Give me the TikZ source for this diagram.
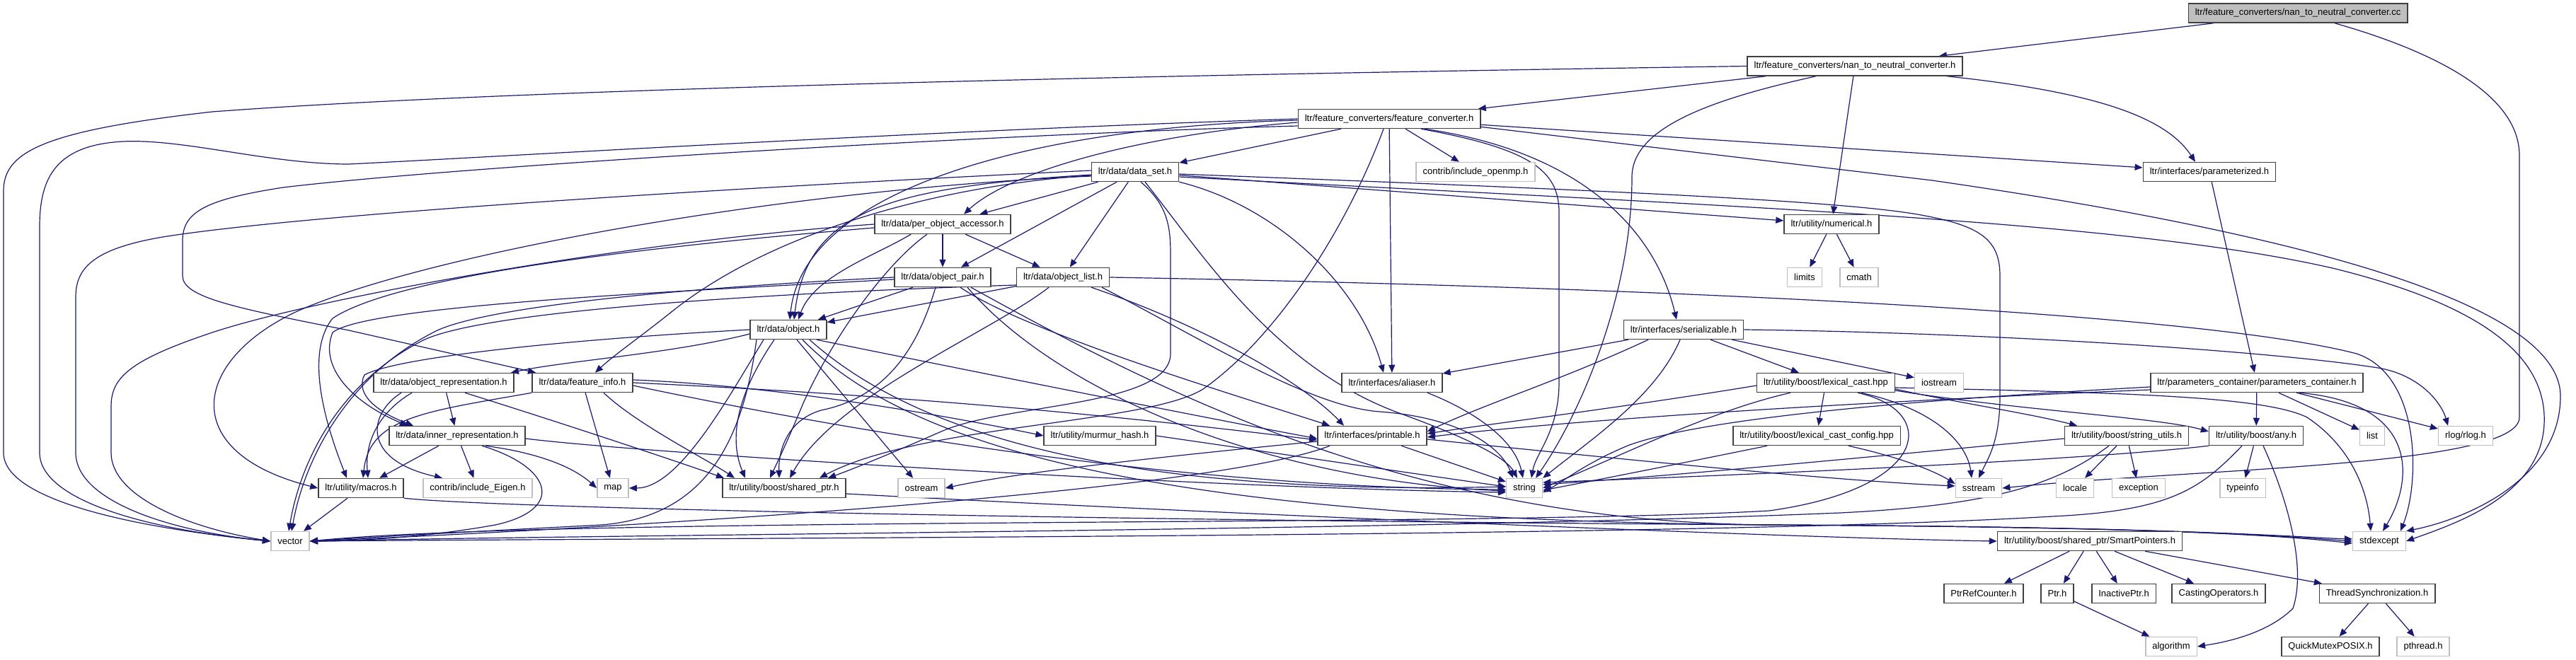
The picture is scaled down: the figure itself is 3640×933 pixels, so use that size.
\documentclass[tikz,border=0pt]{standalone}
\usepackage{fontspec}
\setmainfont{Liberation Sans}
\usetikzlibrary{arrows.meta,backgrounds}
\definecolor{edgeblue}{HTML}{191970}
\definecolor{boxgray}{HTML}{BFBFBF}

\begin{document}
\begin{tikzpicture}[x=1pt,y=-1pt,
  file/.style={draw=black!75,line width=1.5pt,fill=white,minimum height=27pt,
    inner xsep=9.5pt,inner ysep=0pt,font=\fontsize{13pt}{15pt}\selectfont},
  sys/.style={file,draw=boxgray},
  dep/.style={edgeblue,line width=1.2pt,-{Triangle[length=11pt,width=9pt]}}]
  % rank 0 - 2
  \node[file,fill=boxgray] (root) at (3247,18.5) {ltr/feature\_converters/nan\_to\_neutral\_converter.cc};
  \node[file] (nanh) at (2621,93.5) {ltr/feature\_converters/nan\_to\_neutral\_converter.h};
  \node[file] (fconv) at (1963,168) {ltr/feature\_converters/feature\_converter.h};
  % rank 3 - 6
  \node[file] (dataset) at (1604,243) {ltr/data/data\_set.h};
  \node[sys] (openmp) at (2085,243) {contrib/include\_openmp.h};
  \node[file] (param) at (3122,243) {ltr/interfaces/parameterized.h};
  \node[file] (poa) at (1332,317) {ltr/data/per\_object\_accessor.h};
  \node[file] (numerical) at (2588,317) {ltr/utility/numerical.h};
  \node[file] (opair) at (1332,392) {ltr/data/object\_pair.h};
  \node[file] (olist) at (1502,392) {ltr/data/object\_list.h};
  \node[sys] (limits) at (2550,392) {limits};
  \node[sys] (cmath) at (2627,392) {cmath};
  \node[file] (object) at (1114,466) {ltr/data/object.h};
  \node[file] (serial) at (2379,466) {ltr/interfaces/serializable.h};
  % rank 7 - 8
  \node[file] (objrep) at (627,541) {ltr/data/object\_representation.h};
  \node[file] (finfo) at (823,541) {ltr/data/feature\_info.h};
  \node[file] (aliaser) at (1967,541) {ltr/interfaces/aliaser.h};
  \node[file] (lexcast) at (2580,541) {ltr/utility/boost/lexical\_cast.hpp};
  \node[sys] (iostream) at (2740,541) {iostream};
  \node[file] (pcont) at (3189,541) {ltr/parameters\_container/parameters\_container.h};
  \node[file] (innerrep) at (646,616) {ltr/data/inner\_representation.h};
  \node[file] (murmur) at (1554,616) {ltr/utility/murmur\_hash.h};
  \node[file] (printable) at (1939,616) {ltr/interfaces/printable.h};
  \node[file] (lexconf) at (2567,616) {ltr/utility/boost/lexical\_cast\_config.hpp};
  \node[file] (strutils) at (3005,616) {ltr/utility/boost/string\_utils.h};
  \node[file] (any) at (3188,616) {ltr/utility/boost/any.h};
  \node[sys] (list) at (3352,616) {list};
  \node[sys] (rlog) at (3484,616) {rlog/rlog.h};
  % rank 9 - 12
  \node[file] (macros) at (510,690) {ltr/utility/macros.h};
  \node[sys] (eigen) at (675,690) {contrib/include\_Eigen.h};
  \node[sys] (map) at (866,690) {map};
  \node[file] (sptr) at (1108,690) {ltr/utility/boost/shared\_ptr.h};
  \node[sys] (ostream) at (1302,690) {ostream};
  \node[sys] (string) at (2154,690) {string};
  \node[sys] (sstream) at (2796,690) {sstream};
  \node[sys] (locale) at (2932,690) {locale};
  \node[sys] (exception) at (3022,690) {exception};
  \node[sys] (typeinfo) at (3169,690) {typeinfo};
  \node[sys] (vector) at (410,765) {vector};
  \node[file] (smartp) at (2953,765) {ltr/utility/boost/shared\_ptr/SmartPointers.h};
  \node[sys] (stdexcept) at (3362,765) {stdexcept};
  \node[file] (ptrref) at (2803,839) {PtrRefCounter.h};
  \node[file] (ptrh) at (2907,839) {Ptr.h};
  \node[file] (inactive) at (3001,839) {InactivePtr.h};
  \node[file] (casting) at (3135,839) {CastingOperators.h};
  \node[file] (threadsync) at (3359,839) {ThreadSynchronization.h};
  \node[sys] (algorithm) at (3068,914) {algorithm};
  \node[file] (quickmutex) at (3293,914) {QuickMutexPOSIX.h};
  \node[sys] (pthread) at (3424,914) {pthread.h};

  \begin{pgfonlayer}{background}
  \fill[white,use as bounding box] (0,0) rectangle (3640,933);
  % root and nan_to_neutral_converter.h
  \draw[dep] (root) -- (nanh);
  \draw[dep] ([xshift=52pt]root.south) .. controls (3430,70) and (3560,130) .. (3560,220) -- (3560,590) .. controls (3560,660) and (3100,662) .. (sstream.east);
  \draw[dep] (nanh) -- (fconv);
  \draw[dep] (nanh.west) .. controls (1500,108) and (700,128) .. (300,158) .. controls (60,185) and (5,215) .. (5,270) -- (5,640) .. controls (5,705) and (180,745) .. (vector.west);
  \draw[dep] ([xshift=-55pt]nanh.south) .. controls (2420,140) and (2306,180) .. (2306,250) .. controls (2306,420) and (2230,590) .. ([xshift=16pt]string.north);
  \draw[dep] (nanh) -- (numerical);
  \draw[dep] ([xshift=130pt]nanh.south) .. controls (2960,130) and (3060,165) .. ([xshift=-20pt]param.north);
  % feature_converter.h
  \draw[dep] (fconv) -- (dataset);
  \draw[dep] ([yshift=-5pt]fconv.west) .. controls (1620,190) and (1430,240) .. ([xshift=30pt]poa.north);
  \draw[dep] ([yshift=-2pt]fconv.west) .. controls (1450,180) and (1135,270) .. ([xshift=2pt]object.north);
  \draw[dep] ([xshift=-8pt]fconv.south) .. controls (1900,330) and (1800,480) .. (1700,550) .. controls (1620,600) and (1300,600) .. ([xshift=50pt]sptr.north);
  \draw[dep] (fconv) -- (aliaser);
  \draw[dep] (fconv) -- (openmp);
  \draw[dep] ([xshift=45pt]fconv.south) .. controls (2160,210) and (2203,240) .. (2203,300) -- (2203,540) .. controls (2203,610) and (2170,640) .. ([xshift=10pt]string.north);
  \draw[dep] ([xshift=50pt]fconv.south) .. controls (2240,215) and (2340,330) .. ([xshift=-10pt]serial.north);
  \draw[dep] (fconv) -- (param);
  \draw[dep] (fconv.-5) -- (2730,255) .. controls (3250,330) and (3618,430) .. (3618,560) .. controls (3618,680) and (3480,735) .. (stdexcept.north east);
  \draw[dep] (fconv.west) .. controls (1300,185) and (700,222) .. (493,232) .. controls (380,232) and (260,196) .. (174,200) .. controls (80,205) and (56,250) .. (56,320) -- (56,640) .. controls (56,705) and (200,748) .. (vector.west);
  \draw[dep] ([yshift=-10pt]fconv.west) .. controls (1400,190) and (650,235) .. (400,265) .. controls (290,282) and (258,300) .. (258,340) -- (258,390) .. controls (258,420) and (330,435) .. (493,467) -- ([xshift=-66pt]finfo.north);
  % data_set.h
  \draw[dep] (dataset) -- (poa);
  \draw[dep] (dataset) -- (opair);
  \draw[dep] (dataset) -- (olist);
  \draw[dep] ([yshift=-4pt]dataset.west) .. controls (1250,265) and (1140,300) .. ([xshift=8pt]object.north);
  \draw[dep] (dataset.south east) .. controls (1800,290) and (1920,400) .. ([xshift=-12pt]aliaser.north);
  \draw[dep] (dataset) -- (numerical);
  \draw[dep] ([yshift=2pt]dataset.west) .. controls (1100,262) and (450,300) .. (230,335) .. controls (130,352) and (107,380) .. (107,420) -- (107,640) .. controls (107,705) and (230,750) .. (vector.west);
  \draw[dep] ([yshift=-6pt]dataset.west) .. controls (1100,268) and (600,360) .. (420,440) .. controls (270,510) and (250,640) .. (macros.west);
  \draw[dep] ([xshift=8pt]dataset.south) .. controls (1650,290) and (1654,320) .. (1654,360) -- (1654,500) .. controls (1654,575) and (1420,570) .. (1330,610) .. controls (1250,645) and (1200,665) .. ([xshift=62pt]sptr.north);
  \draw[dep] ([xshift=14pt]dataset.south) .. controls (1700,360) and (1800,520) .. (1980,585) .. controls (2090,625) and (2130,650) .. ([xshift=-10pt]string.north);
  \draw[dep] ([yshift=-3pt]dataset.east) .. controls (2300,270) and (2620,285) .. (2720,305) .. controls (2800,320) and (2826,340) .. (2826,390) -- (2826,560) .. controls (2826,625) and (2808,650) .. (sstream.north);
  \draw[dep] ([yshift=-7pt]dataset.east) .. controls (2400,290) and (3000,310) .. (3300,380) .. controls (3500,430) and (3600,500) .. (3595,600) .. controls (3590,700) and (3470,740) .. (stdexcept.east);
  \draw[dep] ([yshift=-5pt]dataset.west) .. controls (1350,260) and (1100,320) .. (950,440) .. controls (900,480) and (870,500) .. ([xshift=18pt]finfo.north);
  % per_object_accessor.h
  \draw[dep] (poa) -- (opair);
  \draw[dep] (poa) -- (olist);
  \draw[dep] ([xshift=-45pt]poa.south) .. controls (1240,360) and (1150,390) .. ([xshift=14pt]object.north);
  \draw[dep] ([xshift=-22pt]poa.south) .. controls (1255,370) and (1180,470) .. (1135,570) .. controls (1110,630) and (1100,650) .. ([xshift=-20pt]sptr.north);
  \draw[dep] (poa.west) .. controls (900,340) and (450,420) .. (300,470) .. controls (180,510) and (157,535) .. (157,575) -- (157,640) .. controls (157,700) and (260,745) .. (vector.west);
  \draw[dep] ([yshift=-5pt]poa.west) .. controls (900,350) and (560,390) .. (470,450) .. controls (430,500) and (460,600) .. ([xshift=-20pt]macros.north);
  % object_pair.h, object_list.h
  \draw[dep] (opair) -- (object);
  \draw[dep] ([xshift=-10pt]opair.south) .. controls (1300,480) and (1260,560) .. (1160,580) .. controls (1110,595) and (1100,640) .. ([xshift=-7pt]sptr.north);
  \draw[dep] ([xshift=25pt]opair.south) .. controls (1450,470) and (1750,560) .. ([xshift=-60pt]printable.north);
  \draw[dep] ([xshift=35pt]opair.south) .. controls (1500,560) and (1800,680) .. ([yshift=-4pt]string.west);
  \draw[dep] ([xshift=40pt]opair.south) .. controls (1650,560) and (2000,738) .. (2500,742) .. controls (3100,745) and (3250,760) .. ([yshift=-3pt]stdexcept.west);
  \draw[dep] (opair.west) .. controls (1000,405) and (700,430) .. (618,467) .. controls (490,530) and (430,650) .. ([xshift=2pt]vector.north);
  \draw[dep] ([yshift=-3pt]opair.west) .. controls (1000,410) and (520,430) .. (470,470) .. controls (450,520) and (500,570) .. ([xshift=-70pt]innerrep.north);
  \draw[dep] (olist) -- (object);
  \draw[dep] ([xshift=-20pt]olist.south) .. controls (1400,470) and (1180,560) .. ([xshift=8pt]sptr.north);
  \draw[dep] ([xshift=40pt]olist.south) .. controls (1700,460) and (1840,540) .. ([xshift=-40pt]printable.north);
  \draw[dep] ([xshift=55pt]olist.south) .. controls (1700,480) and (1850,575) .. (1950,582) .. controls (2060,590) and (2120,630) .. ([xshift=-16pt]string.north);
  \draw[dep] (olist.east) .. controls (2300,405) and (3100,440) .. (3330,500) .. controls (3420,530) and (3420,680) .. ([xshift=30pt]stdexcept.north);
  \draw[dep] ([yshift=-11pt]olist.west) .. controls (1150,412) and (700,435) .. (600,480) .. controls (480,540) and (425,650) .. ([xshift=-2pt]vector.north);
  % object.h
  \draw[dep] ([yshift=-6pt]object.west) .. controls (950,500) and (800,510) .. ([xshift=95pt]objrep.north);
  \draw[dep] (object.west) .. controls (800,480) and (560,505) .. (515,530) .. controls (500,560) and (540,585) .. ([xshift=-62pt]innerrep.north);
  \draw[dep] ([xshift=-20pt]object.south) .. controls (1040,560) and (1030,620) .. ([xshift=-55pt]sptr.north);
  \draw[dep] (object) -- (ostream);
  \draw[dep] ([xshift=40pt]object.south) .. controls (1400,530) and (1700,590) .. ([yshift=-4pt]printable.west);
  \draw[dep] ([xshift=30pt]object.south) .. controls (1300,620) and (1600,700) .. ([yshift=2pt]string.west);
  \draw[dep] ([xshift=20pt]object.south) .. controls (1300,650) and (1700,735) .. (2500,742) .. controls (3100,745) and (3250,760) .. (stdexcept.west);
  \draw[dep] ([xshift=-35pt]object.south) .. controls (1030,560) and (960,690) .. (map.east);
  \draw[dep] ([xshift=-45pt]object.south) .. controls (1050,620) and (1000,730) .. (850,742) .. controls (600,755) and (480,762) .. (vector.east);
  % feature_info.h, object_representation.h, inner_representation.h
  \draw[dep] (finfo) -- (map);
  \draw[dep] (finfo.south west) .. controls (600,582) and (522,590) .. ([xshift=3pt]macros.north);
  \draw[dep] ([xshift=30pt]finfo.south) .. controls (900,600) and (1000,650) .. ([xshift=-70pt]sptr.north);
  \draw[dep] ([yshift=4pt]finfo.east) .. controls (1100,545) and (1350,590) .. (murmur.west);
  \draw[dep] ([yshift=-4pt]finfo.east) .. controls (1250,620) and (1700,690) .. ([yshift=-2pt]string.west);
  \draw[dep] (finfo.east) .. controls (1300,560) and (1600,590) .. ([yshift=-6pt]printable.west);
  \draw[dep] (objrep) -- (innerrep);
  \draw[dep] ([xshift=-45pt]objrep.south) .. controls (540,580) and (515,620) .. ([xshift=10pt]macros.north);
  \draw[dep] ([xshift=-60pt]objrep.south) .. controls (520,585) and (510,650) .. ([xshift=-50pt]eigen.north);
  \draw[dep] ([xshift=30pt]objrep.south) .. controls (800,600) and (950,650) .. ([xshift=-85pt]sptr.north);
  \draw[dep] (innerrep) -- (macros);
  \draw[dep] (innerrep) -- (eigen);
  \draw[dep] ([xshift=40pt]innerrep.south) .. controls (760,640) and (810,660) .. (map.west);
  \draw[dep] ([xshift=35pt]innerrep.south) .. controls (780,660) and (800,720) .. (700,742) .. controls (600,760) and (500,765) .. (vector.east);
  \draw[dep] ([yshift=-4pt]innerrep.east) .. controls (900,640) and (1700,690) .. ([yshift=-6pt]string.west);
  % macros.h, shared_ptr.h, murmur_hash.h
  \draw[dep] (macros) -- (vector);
  \draw[dep] (macros.south east) .. controls (700,718) and (1500,735) .. (2500,742) .. controls (3100,745) and (3250,760) .. ([yshift=3pt]stdexcept.west);
  \draw[dep] ([yshift=-8pt]sptr.east) .. controls (1600,720) and (2500,760) .. (smartp.west);
  \draw[dep] (murmur.east) .. controls (1800,640) and (2000,670) .. ([yshift=2pt]string.west);
  % printable.h, aliaser.h, serializable.h
  \draw[dep] (printable) -- (string);
  \draw[dep] ([yshift=-8pt]printable.west) .. controls (1700,640) and (1450,665) .. (ostream.east);
  \draw[dep] ([yshift=-5pt]printable.east) .. controls (2300,650) and (2600,680) .. ([yshift=3pt]sstream.west);
  \draw[dep] ([xshift=-60pt]printable.south) .. controls (1700,700) and (800,750) .. (vector.east);
  \draw[dep] ([xshift=50pt]aliaser.south) .. controls (2080,580) and (2140,620) .. ([xshift=-2pt]string.north);
  \draw[dep] (serial) -- (aliaser);
  \draw[dep] ([xshift=-50pt]serial.south) .. controls (2200,540) and (2100,570) .. ([yshift=6pt]printable.east);
  \draw[dep] ([xshift=-5pt]serial.south) .. controls (2340,560) and (2250,620) .. (string.north east);
  \draw[dep] (serial) -- (lexcast);
  \draw[dep] (serial) -- (iostream);
  \draw[dep] (serial.east) .. controls (2800,470) and (3200,495) .. (3360,520) .. controls (3420,530) and (3450,570) .. ([xshift=-25pt]rlog.north);
  % lexical_cast.hpp, lexical_cast_config.hpp
  \draw[dep] (lexcast) -- (lexconf);
  \draw[dep] ([xshift=-50pt]lexcast.south) .. controls (2420,580) and (2300,640) .. (string.east);
  \draw[dep] ([xshift=50pt]lexcast.south) .. controls (2740,580) and (2780,630) .. ([xshift=-10pt]sstream.north);
  \draw[dep] ([yshift=-9pt]lexcast.east) .. controls (2760,568) and (2870,585) .. ([xshift=-70pt]strutils.north);
  \draw[dep] ([yshift=-11pt]lexcast.east) .. controls (2850,580) and (3050,590) .. ([yshift=6pt]any.west);
  \draw[dep] ([yshift=-4pt]lexcast.west) .. controls (2300,575) and (2100,600) .. ([yshift=3pt]printable.east);
  \draw[dep] ([xshift=45pt]lexcast.south) .. controls (2740,580) and (2730,690) .. (2500,722) .. controls (2100,745) and (800,730) .. (vector.east);
  \draw[dep] ([yshift=-7pt]lexcast.east) .. controls (3000,555) and (3200,560) .. (3260,590) .. controls (3320,630) and (3345,690) .. ([xshift=-12pt]stdexcept.north);
  \draw[dep] ([xshift=-70pt]lexconf.south) .. controls (2400,650) and (2250,680) .. ([yshift=-3pt]string.east);
  \draw[dep] ([xshift=45pt]lexconf.south) .. controls (2700,650) and (2740,670) .. ([yshift=6pt]sstream.west);
  % parameters_container.h
  \draw[dep] (param) -- (pcont);
  \draw[dep] (pcont) -- (any);
  \draw[dep] (pcont) -- (list);
  \draw[dep] (pcont) -- (rlog);
  \draw[dep] ([xshift=60pt]pcont.south) .. controls (3420,570) and (3410,680) .. ([xshift=5pt]stdexcept.north);
  \draw[dep] ([yshift=-6pt]pcont.west) .. controls (2800,560) and (2420,585) .. (2300,630) .. controls (2240,655) and (2210,680) .. ([yshift=-6pt]string.east);
  \draw[dep] ([yshift=-10pt]pcont.west) .. controls (2700,565) and (2250,590) .. ([yshift=-2pt]printable.east);
  % string_utils.h, any.h
  \draw[dep] (strutils) -- (locale);
  \draw[dep] (strutils) -- (exception);
  \draw[dep] ([yshift=-4pt]strutils.west) .. controls (2700,640) and (2400,670) .. ([yshift=5pt]string.east);
  \draw[dep] ([xshift=-25pt]strutils.south) .. controls (2900,690) and (2800,715) .. (2600,725) .. controls (2000,750) and (900,755) .. (vector.east);
  \draw[dep] (any) -- (typeinfo);
  \draw[dep] ([xshift=10pt]any.south) .. controls (3230,700) and (3260,800) .. (3240,860) .. controls (3200,900) and (3130,910) .. (algorithm.east);
  \draw[dep] (any.south west) .. controls (2950,650) and (2500,670) .. ([yshift=8pt]string.east);
  \draw[dep] ([xshift=-20pt]any.south) .. controls (3110,690) and (3070,722) .. (2900,730) .. controls (2400,760) and (1000,760) .. (vector.east);
  % SmartPointers.h and the rest
  \draw[dep] (smartp) -- (ptrref);
  \draw[dep] (smartp) -- (ptrh);
  \draw[dep] (smartp) -- (inactive);
  \draw[dep] (smartp) -- (casting);
  \draw[dep] (smartp) -- (threadsync);
  \draw[dep] (ptrh) -- (algorithm);
  \draw[dep] (threadsync) -- (quickmutex);
  \draw[dep] (threadsync) -- (pthread);
  \draw[dep] (numerical) -- (limits);
  \draw[dep] (numerical) -- (cmath);
  \end{pgfonlayer}
\end{tikzpicture}
\end{document}
